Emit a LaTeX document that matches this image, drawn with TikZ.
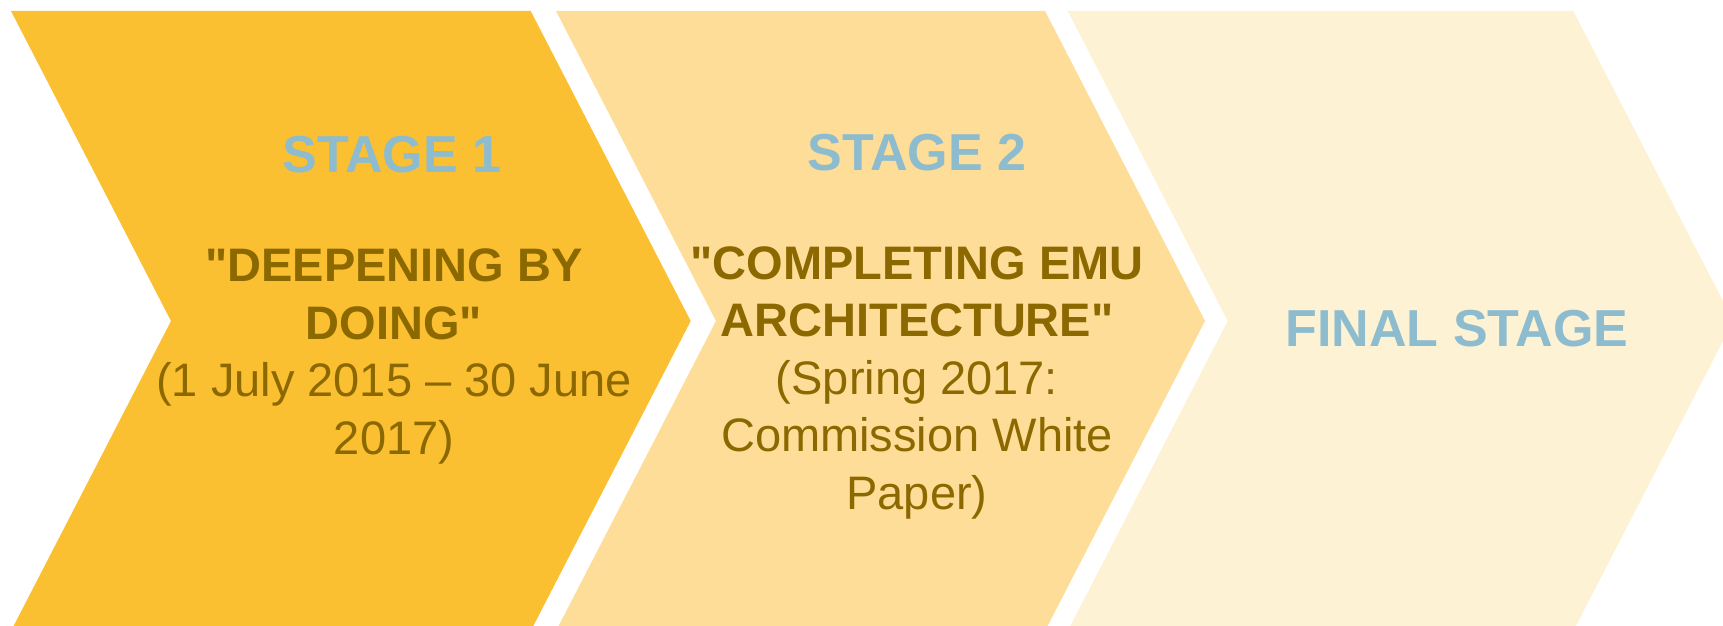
\documentclass[tikz,border=0pt]{standalone}
\usepackage{fontspec}
\setmainfont{Liberation Sans}
\definecolor{stageone}{RGB}{251,191,50}
\definecolor{stagetwo}{RGB}{253,221,151}
\definecolor{stagefinal}{RGB}{254,242,212}
\definecolor{stageblue}{RGB}{142,188,207}
\definecolor{stagebrown}{RGB}{140,105,0}

\begin{document}
\begin{tikzpicture}[x=1pt,y=-1pt,
  heading/.style={text=stageblue,font=\fontsize{52}{62}\selectfont\bfseries,anchor=base,inner sep=0pt},
  body/.style={text=stagebrown,font=\fontsize{47}{57.5}\selectfont,align=center,anchor=base,inner sep=0pt}]
  \useasboundingbox (0,0) rectangle (1723,626);
  \clip (0,0) rectangle (1723,626);
  % chevrons
  \fill[stageone] (11,11) -- (530.7,11) -- (690.7,321) -- (530.7,631) -- (11,631) -- (171,321) -- cycle;
  \fill[stagetwo] (556,11) -- (1045,11) -- (1205,321) -- (1045,631) -- (556,631) -- (716,321) -- cycle;
  \fill[stagefinal] (1067.7,11) -- (1573.3,11) -- (1733.3,321) -- (1573.3,631) -- (1067.7,631) -- (1227.7,321) -- cycle;
  % texts (body nodes sit on the baseline of their last line)
  \node[heading] (s1) at (392,172) {STAGE 1};
  \node[body] (t1) at (394,454) {\textbf{\textquotedbl DEEPENING BY}\\\textbf{DOING\textquotedbl}\\(1 July 2015 – 30 June\\2017)};
  \node[heading] (s2) at (917,170) {STAGE 2};
  \node[body] (t2) at (917,509) {\textbf{\textquotedbl COMPLETING EMU}\\\textbf{ARCHITECTURE\textquotedbl}\\(Spring 2017:\\Commission White\\Paper)};
  \node[heading] (s3) at (1457,346.5) {FINAL STAGE};
\end{tikzpicture}
\end{document}
